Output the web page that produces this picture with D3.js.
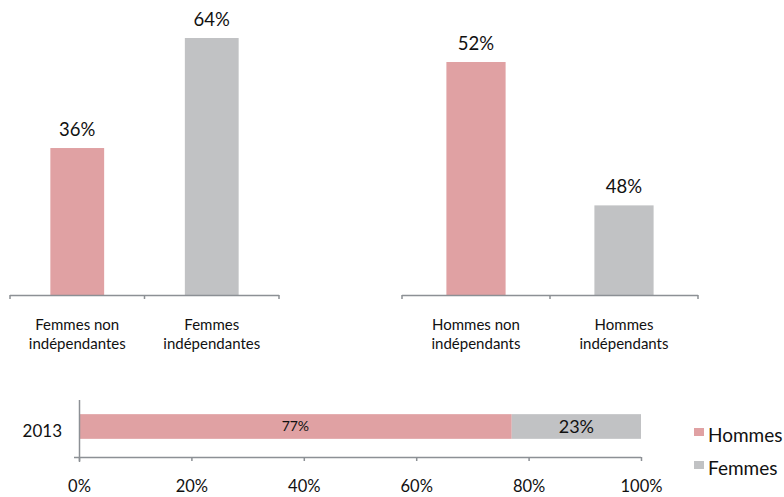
<!DOCTYPE html>
<html>
<head>
<meta charset="utf-8">
<script src="https://cdn.jsdelivr.net/npm/d3@7"></script>
<style>
  html, body { margin: 0; padding: 0; background: #fff; }
  svg { display: block; font-family: Lato, "Open Sans", sans-serif; }
</style>
</head>
<body>
<svg id="chart" width="784" height="497"></svg>
<script>
// Part des femmes et des hommes selon le statut
const womenCategories = ["Femmes non indépendantes", "Femmes indépendantes"];
const womenValues = [36, 64];
const menCategories = ["Hommes non indépendants", "Hommes indépendants"];
const menValues = [52, 48];
const barColors = ["#E0A1A3", "#C1C2C4"];

// Répartition hommes / femmes (barre empilée)
const stackYears = ["2013"];
const stackSeries = ["Hommes", "Femmes"];
const stackValues = { Hommes: [77], Femmes: [23] };
const xTicks = [0, 20, 40, 60, 80, 100];

const AXIS = "#8C9095";
const svg = d3.select("#chart");

// Splits "Femmes non indépendantes" into its two printed lines
function splitLabel(s) {
  const words = s.split(" ");
  const last = words.pop();
  return [words.join(" "), last];
}

function columnChart(cats, vals, xRange, yDomain, yRange) {
  const x = d3.scaleBand().domain(cats).range(xRange).paddingInner(0.6).paddingOuter(0.3);
  const y = d3.scaleLinear().domain(yDomain).range(yRange);
  const g = svg.append("g");
  const base = yRange[0];

  g.selectAll("rect").data(cats).join("rect")
    .attr("x", d => x(d))
    .attr("width", x.bandwidth())
    .attr("y", (d, i) => y(vals[i]))
    .attr("height", (d, i) => base - y(vals[i]))
    .attr("fill", (d, i) => barColors[i]);

  g.selectAll("text.val").data(cats).join("text")
    .attr("class", "val")
    .attr("x", d => x(d) + x.bandwidth() / 2)
    .attr("y", (d, i) => y(vals[i]) - 12)
    .attr("text-anchor", "middle")
    .attr("font-size", 18.5)
    .attr("fill", "#111")
    .text((d, i) => vals[i] + "%");

  // category axis: line with ticks on the category boundaries
  const bounds = d3.range(cats.length + 1).map(i => xRange[0] + i * (xRange[1] - xRange[0]) / cats.length);
  g.append("line")
    .attr("x1", xRange[0]).attr("x2", xRange[1])
    .attr("y1", base + 0.5).attr("y2", base + 0.5)
    .attr("stroke", AXIS).attr("stroke-width", 1.5);
  g.selectAll("line.tick").data(bounds).join("line")
    .attr("class", "tick")
    .attr("x1", d => d).attr("x2", d => d)
    .attr("y1", base).attr("y2", base + 4)
    .attr("stroke", AXIS).attr("stroke-width", 1.5);

  const lab = g.selectAll("text.cat").data(cats).join("text")
    .attr("class", "cat")
    .attr("text-anchor", "middle")
    .attr("font-size", 15)
    .attr("fill", "#111");
  lab.each(function(d) {
    const t = d3.select(this);
    splitLabel(d).forEach((line, k) => {
      t.append("tspan")
        .attr("x", x(d) + x.bandwidth() / 2)
        .attr("y", base + 35 + k * 19)
        .text(line);
    });
  });
}

columnChart(womenCategories, womenValues, [10, 279], [-1.4, 64], [295, 38]);
columnChart(menCategories, menValues, [402, 698], [45.5, 52], [295, 62]);

// Stacked horizontal bar
const xs = d3.scaleLinear().domain([0, 100]).range([79, 641]);
const ys = d3.scaleBand().domain(stackYears).range([402, 451]).padding(0.33);
const stacked = d3.stack().keys(stackSeries)(stackYears.map((yr, i) => ({
  year: yr, Hommes: stackValues.Hommes[i], Femmes: stackValues.Femmes[i]
})));

const gb = svg.append("g");
stacked.forEach((layer, li) => {
  layer.forEach((seg, si) => {
    gb.append("rect")
      .attr("x", xs(seg[0]))
      .attr("width", xs(seg[1]) - xs(seg[0]))
      .attr("y", ys(stackYears[si]))
      .attr("height", ys.bandwidth())
      .attr("fill", barColors[li]);
    gb.append("text")
      .attr("x", (xs(seg[0]) + xs(seg[1])) / 2)
      .attr("y", ys(stackYears[si]) + ys.bandwidth() / 2)
      .attr("dy", "0.35em")
      .attr("text-anchor", "middle")
      .attr("font-size", li === 0 ? 14 : 18)
      .attr("fill", "#111")
      .text(seg[1] - seg[0] + "%");
  });
});

const xAxis = gb.append("g")
  .attr("transform", "translate(0,457)")
  .call(d3.axisBottom(xs).tickValues(xTicks).tickSize(4).tickPadding(19).tickFormat(d => d + "%"));
xAxis.select(".domain").attr("d", `M${xs(0) - 5},0.5H${xs(100)}`).attr("stroke", AXIS).attr("stroke-width", 1.5);
xAxis.selectAll(".tick line").attr("stroke", AXIS).attr("stroke-width", 1.5);
xAxis.selectAll(".tick text").attr("font-size", 16.5).attr("fill", "#111").attr("font-family", "Lato, sans-serif");

const yAxis = gb.append("g")
  .attr("transform", "translate(79,0)")
  .call(d3.axisLeft(ys).tickSize(0).tickPadding(17));
yAxis.select(".domain").attr("d", "M0.5,400V462").attr("stroke", AXIS).attr("stroke-width", 1.5);
yAxis.selectAll(".tick text").attr("font-size", 17).attr("fill", "#111").attr("dy", "0.6em").attr("font-family", "Lato, sans-serif");

// Legend
const leg = svg.append("g").attr("transform", "translate(694,428)");
stackSeries.forEach((s, i) => {
  const row = leg.append("g").attr("transform", `translate(0,${i * 33})`);
  row.append("rect").attr("width", 10).attr("height", 8).attr("fill", barColors[i]);
  row.append("text").attr("x", 14).attr("y", 14)
    .attr("font-size", 19).attr("fill", "#111").text(s);
});
</script>
</body>
</html>
